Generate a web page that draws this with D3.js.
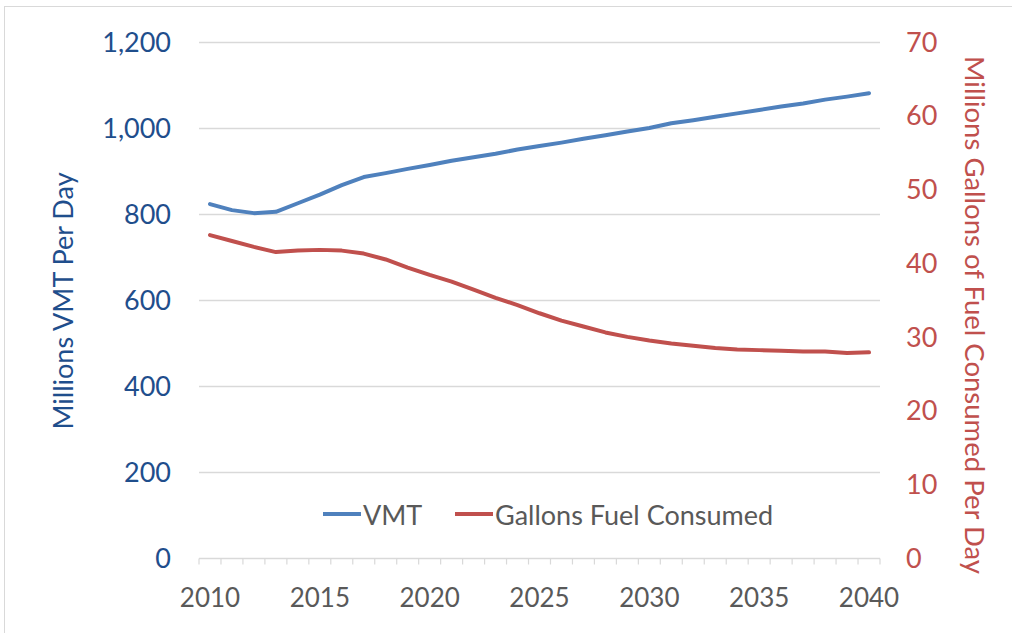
<!DOCTYPE html>
<html>
<head>
<meta charset="utf-8">
<script src="https://cdn.jsdelivr.net/npm/d3@7"></script>
<style>
  body { margin: 0; background: #fff; }
  text { font-family: Lato, "Open Sans", sans-serif; }
</style>
</head>
<body>
<script>
var years = d3.range(2010, 2041);
var vmt = [823, 809, 802, 805, 825, 845, 867, 886, 895, 905, 914, 924, 932, 940, 950,
           958, 966, 975, 983, 992, 1000, 1011, 1018, 1026, 1034, 1042, 1050, 1057, 1066, 1073, 1081];
var gallons = [43.8, 43.0, 42.2, 41.5, 41.7, 41.8, 41.7, 41.3, 40.5, 39.4, 38.4, 37.5, 36.4, 35.3, 34.3,
               33.2, 32.2, 31.4, 30.6, 30.0, 29.5, 29.1, 28.8, 28.5, 28.3, 28.2, 28.1, 28.0, 28.0, 27.8, 27.9];
var leftTicks = [0, 200, 400, 600, 800, 1000, 1200];
var rightTicks = [0, 10, 20, 30, 40, 50, 60, 70];
var xLabels = [2010, 2015, 2020, 2025, 2030, 2035, 2040];
var legendItems = ['VMT', 'Gallons Fuel Consumed'];

var blue = '#4F81BD', red = '#C0504D', navy = '#1F4E8C';

var svg = d3.select('body').append('svg')
    .attr('width', 1012)
    .attr('height', 633);

svg.append('rect')
    .attr('x', 4.5).attr('y', 6.5)
    .attr('width', 1030).attr('height', 650)
    .attr('fill', 'none')
    .attr('stroke', '#d9d9d9')
    .attr('stroke-width', 1);

var x = d3.scaleBand().domain(years).range([199, 880]);
var yL = d3.scaleLinear().domain([0, 1200]).range([558, 42]);
var yR = d3.scaleLinear().domain([0, 70]).range([558, 42]);

// gridlines
svg.append('g').selectAll('line')
    .data(leftTicks.slice(1))
    .join('line')
    .attr('x1', 199).attr('x2', 880)
    .attr('y1', function(d) { return yL(d) + 0.5; })
    .attr('y2', function(d) { return yL(d) + 0.5; })
    .attr('stroke', '#d9d9d9')
    .attr('stroke-width', 1.5);

// x axis
var xAxis = svg.append('g').attr('transform', 'translate(0,558.5)');
xAxis.append('line')
    .attr('x1', 199).attr('x2', 880)
    .attr('stroke', '#d9d9d9').attr('stroke-width', 1.5);
xAxis.selectAll('line.tick')
    .data(years.concat([2041]))
    .join('line')
    .attr('class', 'tick')
    .attr('x1', function(d) { return d === 2041 ? 880 : x(d); })
    .attr('x2', function(d) { return d === 2041 ? 880 : x(d); })
    .attr('y1', 0).attr('y2', 6)
    .attr('stroke', '#d9d9d9').attr('stroke-width', 1.2);
xAxis.selectAll('text')
    .data(xLabels)
    .join('text')
    .attr('x', function(d) { return x(d) + x.bandwidth() / 2; })
    .attr('y', 48.5)
    .attr('text-anchor', 'middle')
    .attr('font-size', 26)
    .attr('fill', '#595959')
    .text(function(d) { return d; });

// left axis labels
svg.append('g').selectAll('text')
    .data(leftTicks)
    .join('text')
    .attr('x', 171)
    .attr('y', function(d) { return yL(d); })
    .attr('dy', '0.36em')
    .attr('text-anchor', 'end')
    .attr('font-size', 27)
    .attr('fill', navy)
    .text(d3.format(','));

// right axis labels
svg.append('g').selectAll('text')
    .data(rightTicks)
    .join('text')
    .attr('x', 906)
    .attr('y', function(d) { return yR(d); })
    .attr('dy', '0.36em')
    .attr('text-anchor', 'start')
    .attr('font-size', 27)
    .attr('fill', red)
    .text(function(d) { return d; });

// axis titles
svg.append('text')
    .attr('transform', 'translate(73,301) rotate(-90)')
    .attr('text-anchor', 'middle')
    .attr('font-size', 27)
    .attr('fill', navy)
    .text('Millions VMT Per Day');

svg.append('text')
    .attr('transform', 'translate(965,315) rotate(90)')
    .attr('text-anchor', 'middle')
    .attr('font-size', 27.5)
    .attr('fill', red)
    .text('Millions Gallons of Fuel Consumed Per Day');

// lines
var cx = function(d, i) { return x(years[i]) + x.bandwidth() / 2; };

svg.append('path')
    .datum(vmt)
    .attr('d', d3.line().x(cx).y(function(d) { return yL(d); }))
    .attr('fill', 'none')
    .attr('stroke', blue)
    .attr('stroke-width', 4)
    .attr('stroke-linecap', 'round')
    .attr('stroke-linejoin', 'round');

svg.append('path')
    .datum(gallons)
    .attr('d', d3.line().x(cx).y(function(d) { return yR(d); }))
    .attr('fill', 'none')
    .attr('stroke', red)
    .attr('stroke-width', 4)
    .attr('stroke-linecap', 'round')
    .attr('stroke-linejoin', 'round');

// legend
var legend = svg.append('g');
var legendX = [323, 455];
var legendColors = [blue, red];
legendItems.forEach(function(name, i) {
    legend.append('line')
        .attr('x1', legendX[i]).attr('x2', legendX[i] + 38)
        .attr('y1', 514).attr('y2', 514)
        .attr('stroke', legendColors[i])
        .attr('stroke-width', 4);
    legend.append('text')
        .attr('x', legendX[i] + 40)
        .attr('y', 515)
        .attr('dy', '0.36em')
        .attr('font-size', 27)
        .attr('fill', '#595959')
        .text(name);
});
</script>
</body>
</html>
